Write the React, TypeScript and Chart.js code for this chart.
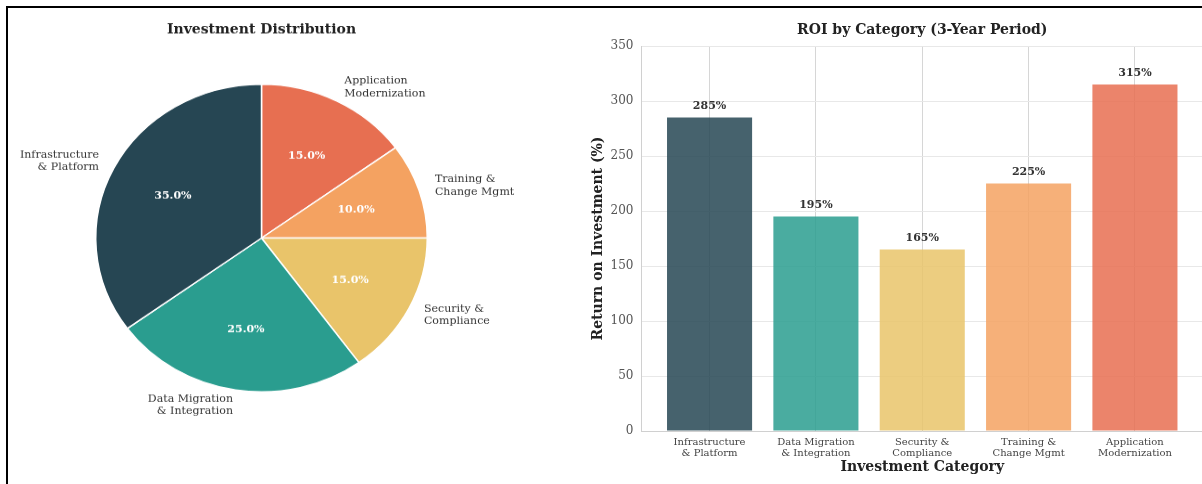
import React, { useEffect, useRef } from 'react';
import { Chart, registerables } from 'chart.js';

Chart.register(...registerables);

// ---------- data ----------
const categoryLines: string[][] = [
  ['Infrastructure', '& Platform'],
  ['Data Migration', '& Integration'],
  ['Security &', 'Compliance'],
  ['Training &', 'Change Mgmt'],
  ['Application', 'Modernization'],
];
const investmentShare = [35, 25, 15, 10, 15];
const roiValues = [285, 195, 165, 225, 315];
const palette = ['#264653', '#2a9d8f', '#e9c46a', '#f4a261', '#e76f51'];
const yTickStep = 50;
const yMax = 350;
const pieTitle = 'Investment Distribution';
const barTitle = 'ROI by Category (3-Year Period)';
const yAxisTitle = 'Return on Investment (%)';
const xAxisTitle = 'Investment Category';

const FONT = '"DejaVu Serif", serif';

const hexToRgba = (hex: string, a: number) => {
  const n = parseInt(hex.slice(1), 16);
  return `rgba(${(n >> 16) & 255}, ${(n >> 8) & 255}, ${n & 255}, ${a})`;
};

const titlePlugin = {
  id: 'centerTitle',
  afterDraw(chart: any, _args: any, opts: any) {
    const { ctx, chartArea } = chart;
    ctx.save();
    ctx.font = `bold 14px ${FONT}`;
    ctx.fillStyle = '#222';
    ctx.textAlign = 'center';
    ctx.textBaseline = 'middle';
    ctx.fillText(opts.text, (chartArea.left + chartArea.right) / 2, chartArea.top - opts.gap);
    ctx.restore();
  },
};

const pieLabelPlugin = {
  id: 'pieLabels',
  afterDatasetsDraw(chart: any) {
    const ctx = chart.ctx;
    const meta = chart.getDatasetMeta(0);
    const data: number[] = chart.data.datasets[0].data;
    const total = data.reduce((a, b) => a + b, 0);
    const labels: string[][] = chart.data.labels;
    meta.data.forEach((arc: any, i: number) => {
      const { x, y, startAngle, endAngle, outerRadius } = arc.getProps(
        ['x', 'y', 'startAngle', 'endAngle', 'outerRadius'],
        true
      );
      const mid = (startAngle + endAngle) / 2;
      const c = Math.cos(mid);
      const s = Math.sin(mid);
      ctx.save();
      ctx.textBaseline = 'middle';
      ctx.font = `bold 11px ${FONT}`;
      ctx.fillStyle = '#ffffff';
      ctx.textAlign = 'center';
      ctx.fillText(((data[i] / total) * 100).toFixed(1) + '%', x + 0.6 * outerRadius * c, y + 0.6 * outerRadius * s);
      ctx.font = `11px ${FONT}`;
      ctx.fillStyle = '#333';
      ctx.textAlign = c >= 0 ? 'left' : 'right';
      const lx = x + 1.1 * outerRadius * c;
      const ly = y + 1.1 * outerRadius * s;
      const lines = labels[i];
      const lh = 13.2;
      lines.forEach((t, k) => ctx.fillText(t, lx, ly + (k - (lines.length - 1) / 2) * lh));
      ctx.restore();
    });
  },
};

const barValuePlugin = {
  id: 'barValues',
  afterDatasetsDraw(chart: any) {
    const ctx = chart.ctx;
    const meta = chart.getDatasetMeta(0);
    ctx.save();
    ctx.font = `bold 11px ${FONT}`;
    ctx.fillStyle = '#333';
    ctx.textAlign = 'center';
    ctx.textBaseline = 'middle';
    meta.data.forEach((bar: any, i: number) => {
      ctx.fillText(`${roiValues[i]}%`, bar.x, bar.y - 11);
    });
    ctx.restore();
  },
};

export default function App() {
  const pieRef = useRef<HTMLCanvasElement>(null);
  const barRef = useRef<HTMLCanvasElement>(null);

  useEffect(() => {
    document.body.style.margin = '0';
    const pieLabels = [...categoryLines].reverse();
    const pieData = [...investmentShare].reverse();
    const pieColors = [...palette].reverse();

    const pie = new Chart(pieRef.current as HTMLCanvasElement, {
      type: 'pie',
      data: {
        labels: pieLabels as any,
        datasets: [
          {
            data: pieData,
            backgroundColor: pieColors,
            borderColor: '#ffffff',
            borderWidth: 1.5,
            hoverOffset: 0,
          },
        ],
      },
      options: {
        responsive: false,
        animation: false,
        events: [],
        layout: { padding: { left: 95, right: 132, top: 89.75, bottom: 96.75 } },
        plugins: {
          legend: { display: false },
          tooltip: { enabled: false },
          centerTitle: { text: pieTitle, gap: 57.5 },
        } as any,
      },
      plugins: [titlePlugin, pieLabelPlugin],
    });

    const bar = new Chart(barRef.current as HTMLCanvasElement, {
      type: 'bar',
      data: {
        datasets: [
          {
            data: roiValues.map((v, i) => ({ x: i, y: v })),
            backgroundColor: palette.map((c) => hexToRgba(c, 0.85)),
            borderWidth: 0,
            categoryPercentage: 1,
            barPercentage: 0.8,
          },
        ],
      },
      options: {
        responsive: false,
        animation: false,
        events: [],
        layout: { padding: { left: 0, right: 7, top: 46, bottom: 0 } },
        scales: {
          x: {
            type: 'linear',
            position: 'bottom',
            offset: false,
            min: -0.64,
            max: categoryLines.length - 1 + 0.64,
            afterBuildTicks: (scale: any) => {
              scale.ticks = categoryLines.map((_, i) => ({ value: i }));
            },
            afterFit: (scale: any) => {
              scale.height = 53;
            },
            ticks: {
              autoSkip: false,
              maxRotation: 0,
              padding: 6,
              color: '#444',
              font: { family: FONT, size: 10, lineHeight: 1.1 },
              callback: (v: any) => categoryLines[Math.round(Number(v))],
            },
            grid: { color: '#d6d6d6', drawTicks: false, offset: false },
            border: { display: true, color: '#d0d0d0' },
            title: {
              display: true,
              text: xAxisTitle,
              color: '#222',
              font: { family: FONT, size: 14, weight: 'bold' },
              padding: { top: 0, bottom: 8.6 },
            },
          },
          y: {
            type: 'linear',
            min: 0,
            max: yMax,
            afterFit: (scale: any) => {
              scale.width = 61.5;
            },
            ticks: {
              stepSize: yTickStep,
              padding: 8,
              color: '#555',
              font: { family: FONT, size: 12 },
            },
            grid: { color: '#e8e8e8', drawTicks: false },
            border: { display: true, color: '#d0d0d0' },
            title: {
              display: true,
              text: yAxisTitle,
              color: '#222',
              font: { family: FONT, size: 14, weight: 'bold' },
              padding: { top: 9.6, bottom: 0 },
            },
          },
        } as any,
        plugins: {
          legend: { display: false },
          tooltip: { enabled: false },
          centerTitle: { text: barTitle, gap: 16 },
        } as any,
      },
      plugins: [titlePlugin, barValuePlugin],
    });

    return () => {
      pie.destroy();
      bar.destroy();
    };
  }, []);

  return (
    <div style={{ position: 'relative', width: 1202, height: 484, overflow: 'hidden', background: '#fff' }}>
      <div
        style={{
          position: 'absolute',
          left: 0,
          top: 0,
          width: 560,
          height: 520,
          transform: 'scaleY(0.928)',
          transformOrigin: '0 0',
        }}
      >
        <canvas ref={pieRef} width={560} height={520} style={{ display: 'block' }} />
      </div>
      <canvas
        ref={barRef}
        width={630}
        height={484}
        style={{ position: 'absolute', left: 580, top: 0, display: 'block' }}
      />
      <div
        style={{
          position: 'absolute',
          left: 6,
          top: 6,
          width: 1300,
          height: 600,
          borderLeft: '2px solid #000',
          borderTop: '2px solid #000',
          pointerEvents: 'none',
        }}
      />
    </div>
  );
}
